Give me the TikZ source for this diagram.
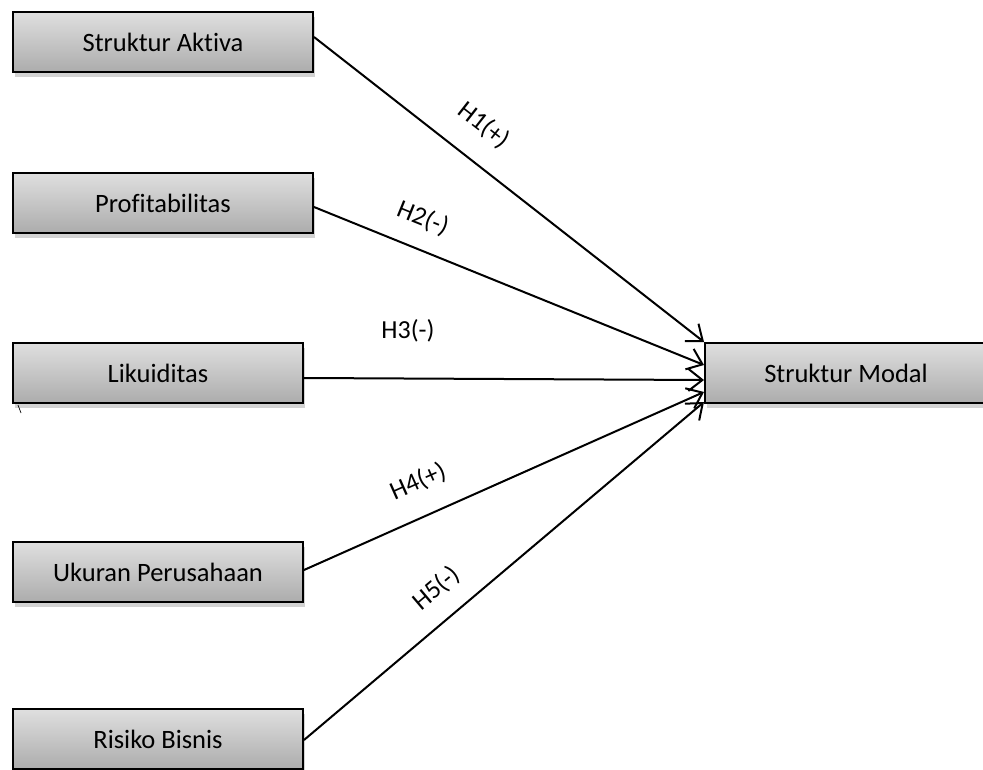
\documentclass[tikz,border=0pt]{standalone}
\usepackage{fontspec}
\setmainfont{Carlito}[Ligatures=NoCommon]
\usepackage{tikz}
\usetikzlibrary{shapes,arrows.meta,backgrounds,shadows}
\usetikzlibrary{positioning, shapes.geometric}
\tikzset{
  varbox/.style={ draw, line width=2pt, rectangle, top color=gray!25, bottom color=gray!65,
    drop shadow={shadow xshift=2pt, shadow yshift=-5pt, opacity=0.35},
    minimum height=60pt, inner sep=0pt, font=\fontsize{26.5}{31}\selectfont }
}
\tikzset{
  hyp/.style={ draw, line width=2pt, -{Straight Barb[length=14pt, width=22pt, line width=2pt]} }
}
\tikzset{
  hlab/.style={ font=\fontsize{26}{31}\selectfont, inner sep=0pt }
}

\begin{document}
\begin{tikzpicture}[x=1pt, y=-1pt]
        \useasboundingbox (0, 0) rectangle (983, 770);
        \node[varbox, minimum width=300pt] (aktiva) at (163, 42) {Struktur Aktiva};
        \node[varbox, minimum width=300pt] (profit) at (163, 203) {Profitabilitas};
        \node[varbox, minimum width=290pt] (likuid) at (158, 373) {Likuiditas};
        \node[varbox, minimum width=290pt] (ukuran) at (158, 572) {Ukuran Perusahaan};
        \node[varbox, minimum width=290pt] (risiko) at (158, 739) {Risiko Bisnis};
        \node[varbox, minimum width=282pt] (modal) at (846, 373) {Struktur Modal};
        \coordinate (tick) at (18, 405);
        \draw[line width=0.7pt] (tick) -- ++(3, 8);
        \draw[hyp] ([yshift=5pt]aktiva.east) -- node[hlab, pos=0.38, sloped, above=23pt] {H1(+)} (modal.north west);
        \draw[hyp] ([yshift=-4pt]profit.east) -- node[hlab, pos=0.25, sloped, above=18pt] {H2(-)} ([yshift=8pt]modal.west);
        \draw[hyp] ([yshift=-5pt]likuid.east) -- node[hlab, pos=0.26, above=35pt] {H3(-)} ([yshift=-7pt]modal.west);
        \draw[hyp] ([yshift=2pt]ukuran.east) -- node[hlab, pos=0.32, sloped, above=22pt] {H4(+)} ([yshift=-19pt]modal.west);
        \draw[hyp] ([yshift=-1pt]risiko.east) -- node[hlab, pos=0.38, sloped, above=18pt] {H5(-)} ([yshift=-29pt]modal.west);
      \end{tikzpicture}
\end{document}
